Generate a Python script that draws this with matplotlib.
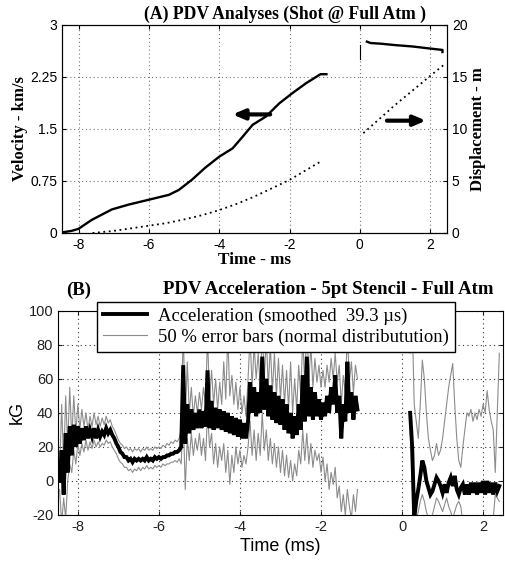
import numpy as np
import matplotlib
matplotlib.use("Agg")
import matplotlib.pyplot as plt
from matplotlib.lines import Line2D

# ---------------- data: panel A ----------------
vel1_t = [-8.45, -8.2, -8.0, -7.62, -7.05, -6.57, -6.0, -5.43, -5.15, -4.77, -4.4, -4.0,
          -3.62, -3.33, -3.05, -2.67, -2.29, -1.91, -1.53, -1.12, -0.95]
vel1_v = [0.01, 0.03, 0.06, 0.19, 0.34, 0.41, 0.48, 0.55, 0.62, 0.77, 0.94, 1.10,
          1.22, 1.39, 1.56, 1.68, 1.87, 2.02, 2.16, 2.29, 2.29]
vel_tick_t = [0.0, 0.0]
vel_tick_v = [2.51, 2.71]
vel2_t = [0.2, 0.3, 0.6, 1.0, 1.5, 2.0, 2.35, 2.35]
vel2_v = [2.76, 2.74, 2.73, 2.71, 2.69, 2.66, 2.64, 2.61]

disp1_t = [-7.6, -7.0, -6.5, -6.0, -5.5, -5.0, -4.5, -4.0, -3.5, -3.0, -2.5, -2.0, -1.5, -1.1]
disp1_m = [0.0, 0.2, 0.45, 0.7, 0.95, 1.3, 1.7, 2.2, 2.8, 3.5, 4.3, 5.1, 6.1, 6.9]
disp2_t = [0.1, 0.5, 1.0, 1.5, 2.0, 2.4]
disp2_m = [9.6, 10.8, 12.3, 13.7, 15.1, 16.2]

# ---------------- data: panel B (sampled every 0.05 ms) ----------------
segA_t0, segB_t0, samp_dt = -8.45, 0.20, 0.05

accA = [0, 18, -8, 28, 5, 32, 15, 33, 20, 32, 22, 31, 24, 32, 25, 30, 26, 31, 25, 30,
        26, 29, 27, 31, 28, 30, 27, 25, 22, 20, 17, 16, 14, 14, 12, 13, 11, 13, 12, 13,
        12, 13, 12, 14, 12, 13, 12, 14, 13, 14, 13, 14, 14, 15, 15, 16, 16, 17, 17, 18,
        20, 68, 22, 45, 28, 42, 30, 40, 31, 42, 31, 41, 32, 65, 31, 47, 30, 43, 31, 42,
        30, 41, 29, 40, 28, 38, 27, 37, 26, 36, 25, 34, 25, 35, 58, 40, 55, 38, 52, 40,
        73, 42, 60, 38, 56, 36, 52, 34, 50, 33, 48, 30, 45, 28, 40, 25, 38, 27, 45, 30,
        62, 35, 73, 38, 55, 36, 52, 38, 48, 36, 46, 38, 50, 40, 55, 45, 62, 40, 50, 25,
        45, 35, 70, 40, 52, 36, 50, 42]
errA_hi = [5, 45, 10, 50, 20, 55, 25, 50, 28, 45, 30, 42, 32, 40, 30, 38, 32, 40, 33, 38,
           32, 37, 33, 38, 34, 36, 32, 30, 27, 24, 22, 21, 19, 20, 18, 19, 17, 19, 18, 19,
           17, 19, 18, 20, 18, 19, 18, 20, 19, 20, 19, 21, 20, 22, 21, 23, 22, 24, 23, 25,
           30, 90, 35, 70, 40, 55, 38, 50, 40, 52, 42, 55, 45, 85, 48, 65, 45, 60, 42, 58,
           45, 70, 48, 85, 50, 62, 45, 58, 42, 55, 40, 50, 38, 60, 85, 55, 80, 60, 75, 55,
           90, 60, 85, 55, 80, 52, 75, 50, 72, 48, 68, 45, 65, 42, 70, 40, 60, 42, 68, 50,
           85, 55, 95, 58, 80, 55, 72, 58, 68, 55, 65, 55, 68, 58, 72, 60, 75, 58, 68, 45,
           62, 52, 88, 58, 70, 52, 68, 60]
errA_lo = [-5, -25, -10, -22, 0, 10, 5, 18, 10, 22, 15, 22, 17, 24, 18, 23, 19, 24, 20, 23,
           20, 22, 21, 24, 22, 23, 20, 18, 16, 13, 11, 10, 8, 8, 6, 7, 5, 7, 6, 8,
           6, 8, 7, 9, 7, 8, 7, 9, 8, 9, 8, 10, 9, 10, 10, 11, 11, 12, 11, 13,
           10, 40, -5, 25, 12, 28, 15, 25, 18, 28, 15, 25, 12, 40, 20, 28, 10, 22, 8, 20,
           12, 22, 5, 18, -2, 15, 5, 20, 10, 18, 8, 15, 10, 20, 35, 15, 30, 12, 28, 15,
           40, 18, 30, 12, 25, 10, 22, 8, 20, 5, 18, 3, 15, 2, 12, 0, 10, 3, 18, 10,
           30, 12, 28, 10, 22, 8, 18, 12, 16, 5, 14, 0, 10, -5, 5, -2, 8, -10, -3, -18,
           -8, -20, -5, -15, -22, -8, -18, -5]

accB = [40, 20, -22, -12, -5, 3, 12, 8, 0, -4, -8, -6, -2, 2, 0, -3, -7, -2, -7, -1,
        2, -3, 3, -5, -8, -4, -2, -8, -2, -8, -1, -7, -1, -8, -1, -7, 0, -8, 0, -7,
        -1, -8, -1, -6, -3]
errB_hi = [75, 95, 45, 35, 25, 45, 71, 60, 40, 25, 18, 12, 15, 22, 15, 18, 25, 35, 45, 55,
           62, 69, 45, 25, 12, 8, 20, 30, 40, 38, 42, 35, 40, 36, 42, 38, 45, 40, 53, 42,
           35, 30, 5, 40, 75]
errB_lo = [30, 0, -25, -22, -18, -12, -8, -12, -18, -22, -25, -20, -15, -10, -12, -15, -18, -14, -10, -15,
           -18, -22, -18, -14, -12, -15, -25, -28, -25, -30, -28, -25, -28, -30, -26, -28, -25, -28, -30, -26,
           -25, -22, -8, -10, -12]

x_ticks = [-8, -6, -4, -2, 0, 2]
vel_ticks = [0, 0.75, 1.5, 2.25, 3]
vel_ticklabels = ["0", "0.75", "1.5", "2.25", "3"]
disp_ticks = [0, 5, 10, 15, 20]
acc_ticks = [-20, 0, 20, 40, 60, 80, 100]

# ---------------- styling ----------------
SERIF = ["Liberation Serif", "DejaVu Serif"]
SANS = ["Liberation Sans", "DejaVu Sans"]
plt.rcParams["font.family"] = SANS
plt.rcParams["axes.unicode_minus"] = False
plt.rcParams["xtick.direction"] = "in"
plt.rcParams["ytick.direction"] = "in"
GRID = dict(color="#777777", linestyle=(0, (1, 2.5)), linewidth=0.8)

fig = plt.figure(figsize=(5.06, 5.64), dpi=100)

# ---------------- panel A ----------------
ax1 = fig.add_axes([0.1225, 0.5869, 0.761, 0.3688])
ax1.plot(vel1_t, vel1_v, color="k", lw=1.7)
ax1.plot(vel_tick_t, vel_tick_v, color="k", lw=0.8)
ax1.plot(vel2_t, vel2_v, color="k", lw=1.7)
ax1.set_xlim(-8.47, 2.48)
ax1.set_ylim(0, 3)
ax1.set_xticks(x_ticks)
ax1.set_yticks(vel_ticks)
ax1.set_yticklabels(vel_ticklabels)
ax1.tick_params(labelsize=10, length=3, top=True)
ax1.grid(True, **GRID)
ax1.set_ylabel("Velocity - km/s", family=SERIF, weight="bold", fontsize=12, labelpad=1)
ax1.set_xlabel("Time - ms", family=SERIF, weight="bold", fontsize=12.3, labelpad=0)
ax1.annotate("", xy=(-3.62, 1.71), xytext=(-2.55, 1.71),
             arrowprops=dict(arrowstyle="-|>,head_length=0.7,head_width=0.3",
                             lw=3, color="k", shrinkA=0, shrinkB=0))
ax1.annotate("", xy=(1.88, 1.62), xytext=(0.77, 1.62),
             arrowprops=dict(arrowstyle="-|>,head_length=0.7,head_width=0.3",
                             lw=3, color="k", shrinkA=0, shrinkB=0))

ax2 = ax1.twinx()
ax2.plot(disp1_t, disp1_m, color="k", lw=1.3, linestyle=(0, (1, 2)))
ax2.plot(disp2_t, disp2_m, color="k", lw=1.3, linestyle=(0, (1, 2)))
ax2.set_ylim(0, 20)
ax2.set_yticks(disp_ticks)
ax2.tick_params(labelsize=10, length=3)
ax2.set_ylabel("Displacement - m", family=SERIF, weight="bold", fontsize=12, labelpad=2)

fig.text(0.563, 0.975, "(A) PDV Analyses (Shot @ Full Atm )", family=SERIF,
         weight="bold", fontsize=12.7, ha="center", va="center")

# ---------------- panel B ----------------
tA = segA_t0 + samp_dt * np.arange(len(accA))
tB = segB_t0 + samp_dt * np.arange(len(accB))

ax3 = fig.add_axes([0.1146, 0.0869, 0.8794, 0.3622])
gray = "#8c8c8c"
ax3.plot(tA, errA_hi, color=gray, lw=0.8)
ax3.plot(tA, errA_lo, color=gray, lw=0.8)
ax3.plot(tB, errB_hi, color=gray, lw=0.8)
ax3.plot(tB, errB_lo, color=gray, lw=0.8)
ax3.plot(tA, accA, color="k", lw=2.8, solid_joinstyle="miter")
ax3.plot(tB, accB, color="k", lw=2.8, solid_joinstyle="miter")
ax3.set_xlim(-8.49, 2.49)
ax3.set_ylim(-20, 100)
ax3.set_xticks(x_ticks)
ax3.set_yticks(acc_ticks)
ax3.tick_params(labelsize=10.5, length=3, top=True, right=True, colors="#222222")
ax3.grid(True, color="#333333", linestyle=(0, (1, 3)), linewidth=0.8)
ax3.set_ylabel("kG", fontsize=13, labelpad=2)
ax3.set_xlabel("Time (ms)", fontsize=13, labelpad=3)

h1 = Line2D([], [], color="k", lw=2.8)
h2 = Line2D([], [], color=gray, lw=0.8)
leg = ax3.legend([h1, h2], ["Acceleration (smoothed  39.3 \u00b5s)",
                            "50 % error bars (normal distributution)"],
                 loc="upper left", bbox_to_anchor=(0.1917, 0.4645),
                 bbox_transform=fig.transFigure, borderaxespad=0,
                 prop=dict(family=SERIF, size=13.4), fancybox=False,
                 framealpha=1, edgecolor="k", handlelength=2.4,
                 handletextpad=0.6, borderpad=0.3, labelspacing=0.2)
leg.get_frame().set_linewidth(1.0)

fig.text(0.155, 0.486, "(B)", family=SERIF, weight="bold", fontsize=13.5,
         ha="center", va="center")
fig.text(0.648, 0.486, "PDV Acceleration - 5pt Stencil - Full Atm", family=SERIF,
         weight="bold", fontsize=13.5, ha="center", va="center")

fig.savefig("out.png", dpi=100)
